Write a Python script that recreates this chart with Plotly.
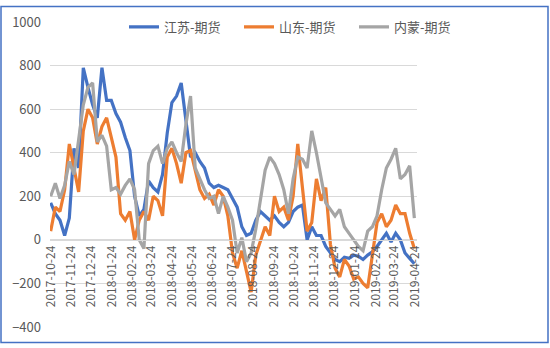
import plotly.graph_objects as go

# Weekly observation dates
dates = [
    "2017-10-24", "2017-10-31", "2017-11-07", "2017-11-14", "2017-11-21", "2017-11-28",
    "2017-12-05", "2017-12-12", "2017-12-19", "2017-12-26", "2018-01-02", "2018-01-09",
    "2018-01-16", "2018-01-23", "2018-01-30", "2018-02-06", "2018-02-13", "2018-02-20",
    "2018-02-27", "2018-03-06", "2018-03-13", "2018-03-20", "2018-03-27", "2018-04-03",
    "2018-04-10", "2018-04-17", "2018-04-24", "2018-05-01", "2018-05-08", "2018-05-15",
    "2018-05-22", "2018-05-29", "2018-06-05", "2018-06-12", "2018-06-19", "2018-06-26",
    "2018-07-03", "2018-07-10", "2018-07-17", "2018-07-24", "2018-07-31", "2018-08-07",
    "2018-08-14", "2018-08-21", "2018-08-28", "2018-09-04", "2018-09-11", "2018-09-18",
    "2018-09-25", "2018-10-02", "2018-10-09", "2018-10-16", "2018-10-23", "2018-10-30",
    "2018-11-06", "2018-11-13", "2018-11-20", "2018-11-27", "2018-12-04", "2018-12-11",
    "2018-12-18", "2018-12-25", "2019-01-01", "2019-01-08", "2019-01-15", "2019-01-22",
    "2019-01-29", "2019-02-05", "2019-02-12", "2019-02-19", "2019-02-26", "2019-03-05",
    "2019-03-12", "2019-03-19", "2019-03-26", "2019-04-02", "2019-04-09", "2019-04-16",
    "2019-04-23",
]

jiangsu = [
    170, 120, 90, 20, 100, 420, 330, 790, 700, 620, 560, 790,
    640, 640, 580, 540, 470, 410, 200, 110, 140, 270, 240, 220,
    300, 490, 630, 660, 720, 560, 380, 400, 360, 330, 260, 240,
    250, 240, 230, 190, 150, 60, 20, 30, 90, 130, 110, 90,
    110, 80, 60, 80, 130, 150, 160, 0, 60, 20, 20, -30,
    -60, -90, -100, -80, -85, -70, -75, -90, -70, -55, -30, 0,
    30, -10, 30, 0, -60, -85, -110,
]

shandong = [
    40, 150, 130, 230, 440, 330, 220, 500, 600, 560, 440, 520,
    560, 470, 380, 120, 90, 130, 0, 90, 130, 90, 200, 180,
    110, 380, 420, 350, 260, 400, 410, 320, 230, 190, 210, 160,
    230, 200, 110, -60, -130, -50, -140, -240, -70, -10, 60, 20,
    200, 130, 150, 90, 200, 440, 240, 40, 80, 280, 180, 240,
    -20, -130, -170, -90, -120, -180, -170, -200, -220, -60, 80, 120,
    60, 90, 160, 120, 120, 30, -40,
]

neimeng = [
    200, 260, 190, 250, 360, 300, 460, 620, 700, 720, 450, 480,
    430, 230, 240, 210, 250, 280, 230, 0, -40, 350, 410, 430,
    350, 420, 450, 400, 360, 530, 660, 330, 280, 230, 190, 200,
    120, 200, 150, 90, -60, 10, -100, -60, 50, 180, 320, 380,
    350, 300, 230, 120, 280, 380, 370, 330, 500, 400, 280, 170,
    140, 110, 140, 60, 30, 0, -30, -50, 40, 60, 110, 230,
    330, 370, 420, 280, 300, 340, 100,
]

series = [
    ("江苏-期货", jiangsu, "#4472C4"),
    ("山东-期货", shandong, "#ED7D31"),
    ("内蒙-期货", neimeng, "#A5A5A5"),
]

fig = go.Figure()
for name, vals, color in series:
    fig.add_trace(go.Scatter(
        x=dates, y=vals, name=name, mode="lines",
        line=dict(color=color, width=3.2),
    ))

font_family = "Noto Sans CJK SC, Noto Sans, sans-serif"
text_color = "#595959"

W, H = 550, 348
ml, mr, mt, mb = 50, 133, 17, 18
pw, ph = W - ml - mr, H - mt - mb
ymin, ymax = -400, 1000

fig.update_layout(
    width=W, height=H,
    margin=dict(l=ml, r=mr, t=mt, b=mb, pad=0),
    paper_bgcolor="white", plot_bgcolor="white",
    font=dict(family=font_family, color=text_color, size=12),
    showlegend=True,
    legend=dict(
        orientation="h", x=(124 - ml) / pw, xanchor="left",
        y=(H - mb - 22) / ph, yanchor="middle",
        font=dict(size=13, color=text_color),
        bgcolor="rgba(0,0,0,0)", entrywidth=70, entrywidthmode="pixels",
        tracegroupgap=0,
    ),
    xaxis=dict(
        type="date",
        range=["2017-10-23", "2019-04-27"],
        tick0="2017-10-24", dtick="M1", tickformat="%Y-%m-%d",
        tickangle=-90, tickfont=dict(size=12, color=text_color),
        showgrid=False, zeroline=False,
        showline=True, linecolor="#D9D9D9", linewidth=1,
        anchor="free", position=(0 - ymin) / (ymax - ymin),
        ticks="", fixedrange=True,
    ),
    yaxis=dict(
        range=[ymin, ymax], dtick=200, tick0=0,
        showgrid=True, gridcolor="#D9D9D9", gridwidth=1,
        zeroline=False, showline=False,
        tickfont=dict(size=13, color=text_color),
        ticklabelstandoff=8,
    ),
    shapes=[dict(
        type="rect", xref="paper", yref="paper",
        x0=(1 - ml) / pw, x1=(548 - ml) / pw,
        y0=(H - mb - 346) / ph, y1=(H - mb - 1) / ph,
        line=dict(color="#4472C4", width=1.5), fillcolor="rgba(0,0,0,0)",
        layer="below",
    )],
)

fig.write_html("out.html")
